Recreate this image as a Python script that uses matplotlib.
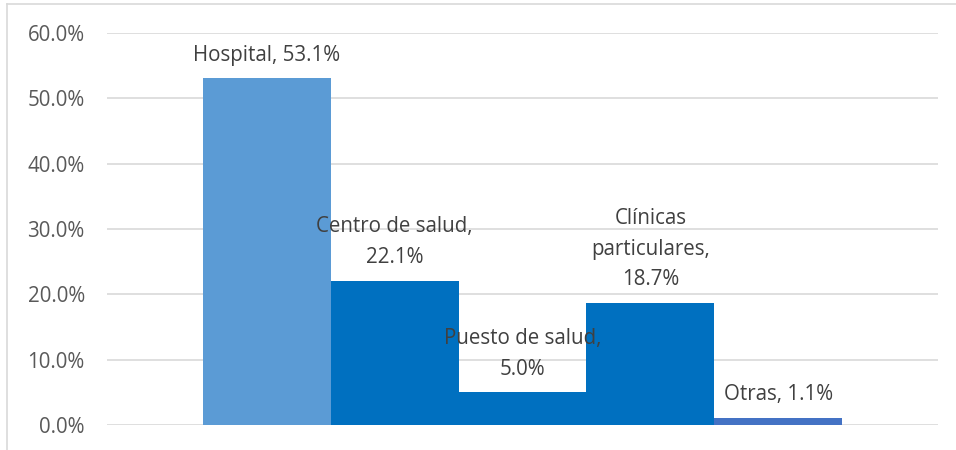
import matplotlib.pyplot as plt
from matplotlib.lines import Line2D
from matplotlib.ticker import PercentFormatter

labels = ['Hospital, 53.1%', 'Centro de salud,\n22.1%', 'Puesto de salud,\n5.0%',
          'Clínicas\nparticulares,\n18.7%', 'Otras, 1.1%']
values = [53.1, 22.1, 5.0, 18.7, 1.1]
colors = ['#5B9BD5', '#0070C0', '#0070C0', '#0070C0', '#4472C4']
yticks = [0, 10, 20, 30, 40, 50, 60]

plt.rcParams['font.family'] = ['Open Sans', 'DejaVu Sans']

fig = plt.figure(figsize=(9.56, 4.5), dpi=100)
ax = fig.add_axes([0.1119, 0.0556, 0.8693, 0.8711])

x = list(range(len(values)))
ax.bar(x, values, width=1.0, color=colors, zorder=3)

for xi, v, lab in zip(x, values, labels):
    ax.annotate(lab, (xi, v), xytext=(0, 9), textcoords='offset points',
                ha='center', va='bottom', fontsize=14.8, color='#404040',
                linespacing=1.6, zorder=4)

ax.set_xlim(-1.25, 5.25)
ax.set_ylim(0, 60)
ax.set_yticks(yticks)
ax.yaxis.set_major_formatter(PercentFormatter(decimals=1))
ax.set_xticks([])
ax.tick_params(axis='y', length=0, pad=16, labelsize=14.8, labelcolor='#595959')
ax.grid(axis='y', color='#D9D9D9', linewidth=1.2, zorder=0)
for s in ax.spines.values():
    s.set_visible(False)

# chart border (left and top edges visible)
fig.add_artist(Line2D([7 / 956, 7 / 956], [0, 1 - 4 / 450], transform=fig.transFigure,
                      color='#D9D9D9', linewidth=1.2))
fig.add_artist(Line2D([7 / 956, 1], [1 - 4 / 450, 1 - 4 / 450], transform=fig.transFigure,
                      color='#D9D9D9', linewidth=1.2))

fig.savefig('out.png', dpi=100)
